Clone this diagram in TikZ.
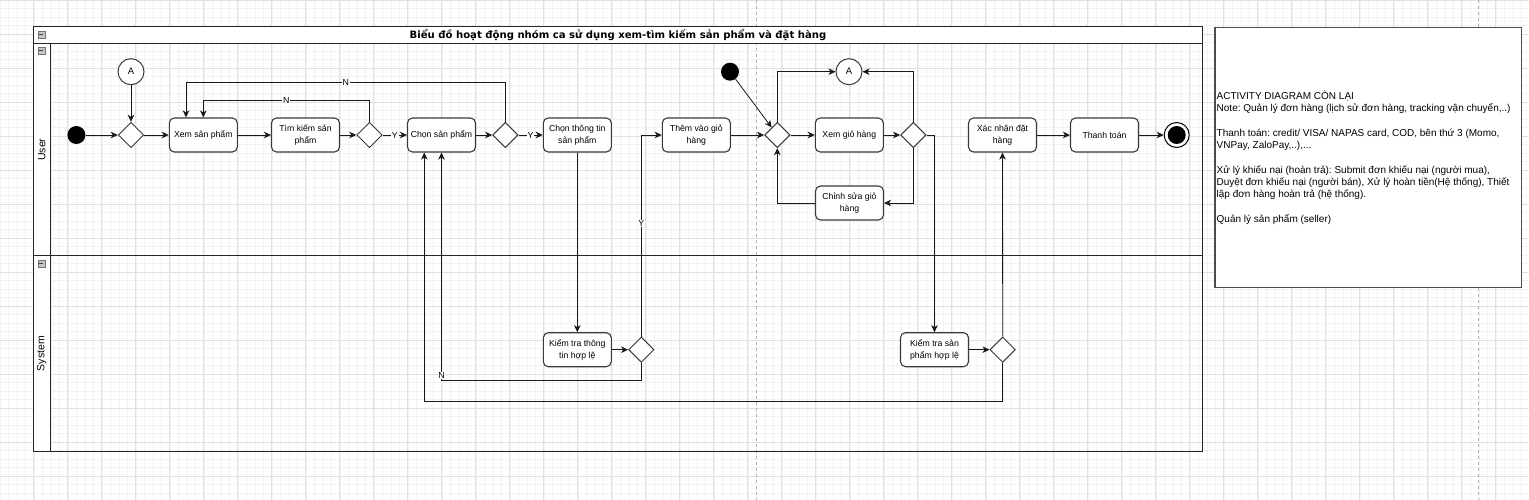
\documentclass[tikz,border=0pt]{standalone}
\usepackage{fontspec}
\setmainfont{Liberation Sans}
\newfontfamily\titlefont{DejaVu Sans}
\usepackage{tikz}
\usetikzlibrary{arrows.meta,positioning,calc,shapes.geometric}
\frenchspacing
\definecolor{gridminor}{HTML}{F2F2F2}
\definecolor{gridmajor}{HTML}{E0E0E0}
\definecolor{boxline}{HTML}{3A3A3A}
\tikzset{
  act/.style     ={rectangle,rounded corners=5pt,draw=boxline,line width=1.1pt,fill=white,
                   minimum width=68pt,minimum height=34pt,inner sep=1pt,align=center,
                   font=\fontsize{8.7}{12}\selectfont},
  dec/.style     ={diamond,draw=boxline,line width=1pt,fill=white,minimum width=25.4pt,
                   minimum height=25.4pt,inner sep=0pt},
  conn/.style    ={circle,draw=boxline,line width=1pt,fill=white,minimum size=26pt,inner sep=0pt,
                   font=\fontsize{9.5}{10}\selectfont},
  startdot/.style={circle,fill=black,minimum size=18pt,inner sep=0pt},
  finring/.style ={circle,draw=black,line width=1pt,fill=white,minimum size=25pt,inner sep=0pt},
  flow/.style    ={draw=black!90,line width=0.8pt,-{Stealth[length=7pt,width=6.5pt,inset=2pt]}},
  lbl/.style     ={fill=white,inner sep=0.8pt,font=\fontsize{8.8}{10}\selectfont},
  lanebox/.style ={draw=black!85,line width=1.2pt},
  collapse/.style={rectangle,draw=gray!90!black,fill=gray!45,minimum size=7pt,inner sep=0pt},
  pagebreak/.style={draw=gray!60,dashed,line width=0.6pt},
}

\begin{document}
\begin{tikzpicture}[x=1pt,y=-1pt]
  \useasboundingbox (0,0) rectangle (1529,500);
  \fill[white] (0,0) rectangle (1529,500);
  % background grid
  \foreach \gx in {0,8.5,...,1529}{\draw[gridminor,line width=0.5pt] (\gx,0) -- (\gx,500);}
  \foreach \gy in {0,8.5,...,500}{\draw[gridminor,line width=0.5pt] (0,\gy) -- (1529,\gy);}
  \foreach \gx in {-0.7,33.3,...,1529}{\draw[gridmajor,line width=0.6pt] (\gx,0) -- (\gx,500);}
  \foreach \gy in {0,34,...,500}{\draw[gridmajor,line width=0.6pt] (0,\gy) -- (1529,\gy);}
  \draw[pagebreak] (756.5,0) -- (756.5,500);
  \draw[pagebreak] (1478.3,0) -- (1478.3,500);

  % pool and lanes
  \fill[white] (33.5,26.5) rectangle (1202.5,43.5);
  \fill[white] (33.5,43.5) rectangle (50.5,451.5);
  \draw[lanebox] (33.5,26.5) rectangle (1202.5,451.5);
  \draw[lanebox] (33.5,43.5) -- (1202.5,43.5);
  \draw[lanebox] (50.5,43.5) -- (50.5,451.5);
  \draw[lanebox] (33.5,255.8) -- (1202.5,255.8);
  \node (title) at (618,35) {\titlefont\bfseries\fontsize{10.1}{11}\selectfont Biểu đồ hoạt động nhóm ca sử dụng xem-tìm kiếm sản phẩm và đặt hàng};
  \node[rotate=90,font=\fontsize{10.5}{11}\selectfont] (laneuser) at (41.7,149.6) {User};
  \node[rotate=90,font=\fontsize{10.5}{11}\selectfont] (lanesys) at (41.7,353.6) {System};
  \foreach \n/\cy in {icpool/34.5,icuser/50.3,icsys/263.3}{
    \node[collapse] (\n) at (41.3,\cy) {\textcolor{black!75}{\rule[0.1pt]{4.2pt}{1.3pt}}};}

  % note
  \draw[draw=black!70,line width=1.1pt,fill=white] (1215,27.3) rectangle (1521.5,287.5);
  \node[anchor=west,align=left,inner sep=0pt,font=\fontsize{10}{12.3}\selectfont] (note) at (1216.5,157.5)
    {ACTIVITY DIAGRAM CÒN LẠI\\
     Note: Quản lý đơn hàng (lịch sử đơn hàng, tracking vận chuyển,..)\\[12.3pt]
     Thanh toán: credit/ VISA/ NAPAS card, COD, bên thứ 3 (Momo,\\
     VNPay, ZaloPay,..),...\\[12.3pt]
     Xử lý khiếu nại (hoàn trả): Submit đơn khiếu nại (người mua),\\
     Duyệt đơn khiếu nại (người bán), Xử lý hoàn tiền(Hệ thống), Thiết\\
     lập đơn hàng hoàn trả (hệ thống).\\[12.3pt]
     Quản lý sản phẩm (seller)};

  % user lane
  \node[startdot] (start1) at (76.4,135){};
  \node[conn]     (A1)     at (131,71.7){A};
  \node[dec]      (d1)     at (131,135){};
  \node[act]      (xem)    at (203.3,135){Xem sản phẩm};
  \node[act]      (tim)    at (305.5,135){Tìm kiếm sản\\phẩm};
  \node[dec]      (d2)     at (369.5,135){};
  \node[act]      (chon)   at (441.5,135){Chọn sản phẩm};
  \node[dec]      (d3)     at (505.4,135){};
  \node[act]      (chontt) at (577.3,135){Chọn thông tin\\sản phẩm};
  \node[act]      (them)   at (696.3,135){Thêm vào giỏ\\hàng};
  \node[startdot] (start2) at (730,71.7){};
  \node[dec]      (d4)     at (777.3,135){};
  \node[conn]     (A2)     at (849,71.7){A};
  \node[act]      (xgh)    at (849.3,135){Xem giỏ hàng};
  \node[dec]      (d5)     at (913.3,135){};
  \node[act]      (csgh)   at (849.5,203){Chỉnh sửa giỏ\\hàng};
  \node[act]      (xn)     at (1002.5,135){Xác nhận đặt\\hàng};
  \node[act]      (tt)     at (1104.5,135){Thanh toán};
  \node[finring]  (fin)    at (1176.7,135){};
  \node[startdot] (findot) at (fin){};

  % system lane
  \node[act]      (kttt)   at (577.3,349.7){Kiểm tra thông\\tin hợp lệ};
  \node[dec]      (ds1)    at (641.3,349.7){};
  \node[act]      (ktsp)   at (934.5,349.7){Kiểm tra sản\\phẩm hợp lệ};
  \node[dec]      (ds2)    at (1002.7,349.7){};

  % flows
  \draw[flow] (start1) -- (d1);
  \draw[flow] (A1) -- (d1);
  \draw[flow] (d1) -- (xem);
  \draw[flow] (xem) -- (tim);
  \draw[flow] (tim) -- (d2);
  \draw[flow] (d2) -- node[lbl]{Y} (chon);
  \draw[flow] (d2.north) -- ++(0,-21) -| node[pos=0.25,lbl]{N} (xem.north);
  \draw[flow] (d3.north) -- ++(0,-39) -| node[pos=0.25,lbl]{N} ($(xem.north)+(-17.3,0)$);
  \draw[flow] (chon) -- (d3);
  \draw[flow] (d3) -- node[lbl]{Y} (chontt);
  \draw[flow] (chontt) -- (kttt);
  \draw[flow] (kttt) -- (ds1);
  \draw[flow] (ds1.north) |- node[pos=0.28,lbl]{Y} (them.west);
  \draw[flow] (ds1.south) -- ++(0,17) -| node[pos=0.51,lbl]{N} (chon.south);
  \draw[flow] (them) -- (d4);
  \draw[flow] (start2) -- (d4);
  \draw[flow] (d4) -- (xgh);
  \draw[flow] (xgh) -- (d5);
  \draw[flow] (d4.north) |- (A2.west);
  \draw[flow] (d5.north) |- (A2.east);
  \draw[flow] (d5.south) |- (csgh.east);
  \draw[flow] (csgh.west) -| (d4.south);
  \draw[flow] (d5.east) -| (ktsp.north);
  \draw[flow] (ktsp) -- (ds2);
  \draw[flow] (ds2) -- (xn);
  \draw[flow] (ds2.south) -- ++(0,38) -| ($(chon.south)+(-17.2,0)$);
  \draw[flow] (xn) -- (tt);
  \draw[flow] (tt) -- (fin);
\end{tikzpicture}
\end{document}
